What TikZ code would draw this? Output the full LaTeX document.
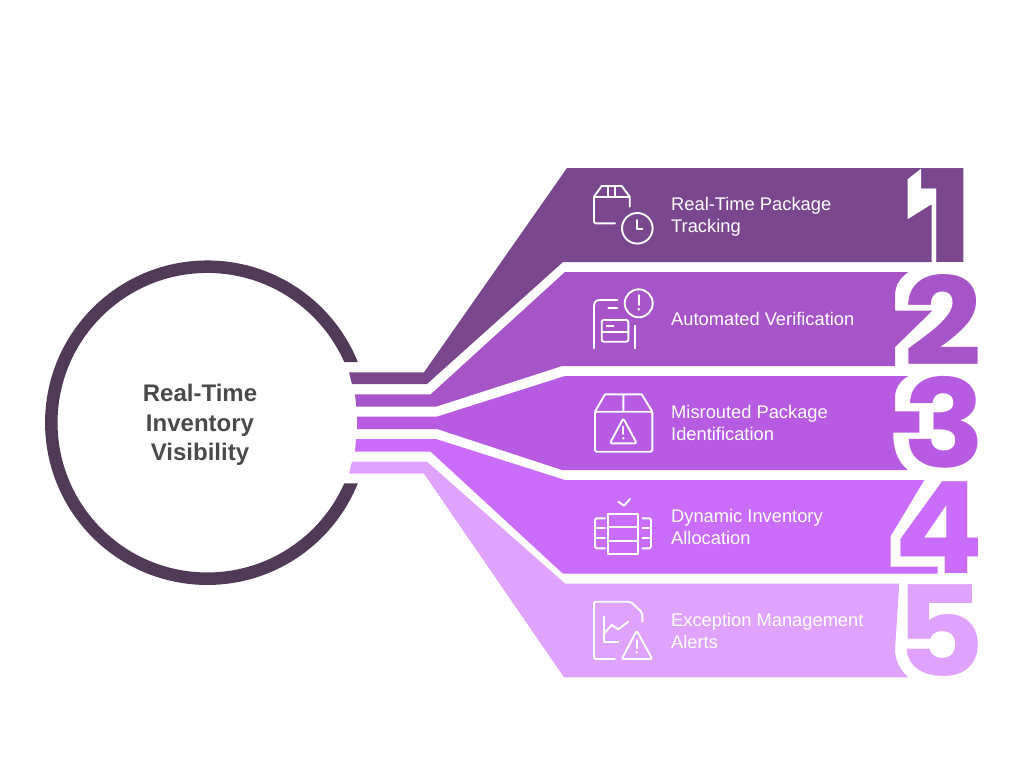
\documentclass[tikz,border=0pt]{standalone}
\usepackage{fontspec}
\setmainfont{Liberation Sans}
\newfontfamily\digitfont{Poppins}
\definecolor{cring}{HTML}{513A57}
\definecolor{cone}{HTML}{7A478E}
\definecolor{ctwo}{HTML}{A654C8}
\definecolor{cthree}{HTML}{B65BE2}
\definecolor{cfour}{HTML}{CA6CFC}
\definecolor{cfive}{HTML}{E0A3FD}
\definecolor{ctitle}{HTML}{4A4A4A}
\tikzset{
  x=1pt,y=-1pt,
  icon/.style={draw=white,line width=1.9pt,line cap=round,line join=round},
  label/.style={anchor=west,inner sep=0pt,align=left,text=white,font=\fontsize{18.3}{22.3}\selectfont},
  title/.style={inner sep=0pt,align=center,text=ctitle,font=\fontsize{24}{29.7}\selectfont\bfseries},
  digit/.style={anchor=base west,inner sep=0pt,font=\digitfont\bfseries\fontsize{122}{122}\selectfont},
}
\begin{document}
\begin{tikzpicture}
\useasboundingbox (0,0) rectangle (1024,774);
% ring
\begin{scope}
\clip (0,0) -- (500,0) -- (500,362) -- (207,362) -- (207,483.3) -- (500,483.3) -- (500,774) -- (0,774) -- cycle;
\draw[cring,line width=12.5pt] (207.3,422.7) circle[radius=156];
\end{scope}
\node[title] (hub) at (200,425) {Real-Time\\Inventory\\Visibility};
% bands
\fill[cone] (349,372.3) -- (424,372.3) -- (567,168) -- (921.7,168) -- (907.7,179) -- (907.7,219.3) -- (931.7,204.3) -- (931.7,262) -- (563,262) -- (427,384) -- (352,384) -- cycle;
\fill[ctwo] (355,394.3) -- (430.7,394.3) -- (565,272) -- (908.3,272) .. controls (900,278) and (895,285) .. (895,296) -- (895,310.7) -- (932.3,310.7) -- (895,347) -- (895,366) -- (562,366) -- (436,406.7) -- (356.3,406.7) -- cycle;
\fill[cthree] (357,416.7) -- (436.7,416.7) -- (565,376) -- (908.3,376) .. controls (900,381) and (895,388) .. (895,398) -- (895,411.3) -- (919.3,411.3) -- (919.3,432.7) -- (893.3,432.7) .. controls (893,450) and (898,462) .. (907.7,470) -- (562,470) -- (437,429) -- (357,429) -- cycle;
\fill[cfour] (356,439) -- (436,439) -- (565,480) -- (924.3,480) -- (890.7,536) -- (890.7,566.7) -- (937.7,566.7) -- (937.7,573.7) -- (563,573.7) -- (430.7,451.7) -- (355,451.7) -- cycle;
\fill[cfive] (352,461.7) -- (427,461.7) -- (565,583.5) -- (899.3,583.5) -- (895,650) .. controls (895,660) and (900,670) .. (908.3,677.3) -- (564,677.3) -- (424,473.7) -- (349,473.7) -- cycle;
% digits
\node[digit,text=cone] (d1) at (917.6,262) {\scalebox{1.25}[1.055]{1}};
\node[digit,text=ctwo] (d2) at (903,365.5) {\scalebox{1.13}[1]{2}};
\node[digit,text=cthree] (d3) at (903,467.7) {\scalebox{1.11}[1]{3}};
\node[digit,text=cfour] (d4) at (894,573.5) {\scalebox{1.08}[1.045]{4}};
\node[digit,text=cfive] (d5) at (895,676) {\scalebox{1.13}[1.03]{5}};
% labels
\node[label] (l1) at (671,216.5) {Real-Time Package\\Tracking};
\node[label] (l2) at (671,319) {Automated Verification};
\node[label] (l3) at (671,423) {Misrouted Package\\Identification};
\node[label] (l4) at (671,527) {Dynamic Inventory\\Allocation};
\node[label] (l5) at (671,631) {Exception Management\\Alerts};
% icon 1
\draw[icon] (629.7,206.7) -- (629.7,196.7) -- (621.7,186) -- (601.7,186) -- (594,196.7) -- (594,221) .. controls (594,222.5) and (594.8,223.3) .. (596,223.3) -- (615,223.3);
\draw[icon] (594,196.7) -- (629.7,196.7) (608.3,186) -- (608.3,196.7) (615,186) -- (615,196.7);
\draw[icon] (637.3,228.3) circle[radius=15.3];
\draw[icon] (637.3,220) -- (637.3,229) -- (642.3,229);
% icon 2
\draw[icon] (594,348.3) -- (594,306.7) .. controls (594,302) and (596,300) .. (600,300) -- (617.3,300);
\draw[icon] (608.3,308.3) -- (617.3,308.3);
\draw[icon] (638.7,303.3) circle[radius=14];
\draw[icon] (638.7,295) -- (638.7,305);
\fill[white] (638.7,309.3) circle[radius=1.4];
\draw[icon,rounded corners=2pt] (601.7,320) rectangle (628.3,341.7);
\draw[icon] (601.7,331.7) -- (628.3,331.7) (606.7,325.7) -- (613.3,325.7);
\draw[icon] (635.3,325.7) -- (635.3,348.3);
% icon 3
\draw[icon,rounded corners=1.5pt] (595,411.7) rectangle (652.3,451.7);
\draw[icon] (595,411.7) -- (605,394.3) -- (641.7,394.3) -- (652.3,411.7) (623.3,394.3) -- (623.3,411.7);
\draw[icon,rounded corners=2pt] (623.3,418.3) -- (636.7,443.3) -- (610,443.3) -- cycle;
\draw[icon] (623.3,426.7) -- (623.3,434);
\fill[white] (623.3,438.3) circle[radius=1.3];
% icon 4
\draw[icon] (618.3,501.7) -- (624,505.7) -- (630,499);
\draw[icon] (608.3,514.3) rectangle (638.3,554.3);
\draw[icon] (608.3,527.3) -- (638.3,527.3) (608.3,541) -- (638.3,541);
\draw[icon,rounded corners=2pt] (605,518.3) -- (595,518.3) -- (595,548.3) -- (605,548.3);
\draw[icon] (595,528.3) -- (605,528.3) (595,538.3) -- (605,538.3);
\draw[icon,rounded corners=2pt] (642.3,518.3) -- (651,518.3) -- (651,548.3) -- (642.3,548.3);
\draw[icon] (642.3,528.3) -- (651,528.3) (642.3,538.3) -- (651,538.3);
% icon 5
\draw[icon,rounded corners=2pt] (615,659) -- (594,659) -- (594,601.7) -- (630.7,601.7) -- (642.3,612.7) -- (642.3,621.7);
\draw[icon] (604.3,616.7) -- (604.3,641.7) -- (618.3,641.7);
\draw[icon] (604.3,633.3) -- (611.7,625) -- (618.3,629.3) -- (628.3,621.7);
\draw[icon,rounded corners=2pt] (636.7,630.7) -- (652.3,659) -- (621.7,659) -- cycle;
\draw[icon] (636.7,640) -- (636.7,648.3);
\fill[white] (636.7,652.3) circle[radius=1.3];
\end{tikzpicture}
\end{document}
